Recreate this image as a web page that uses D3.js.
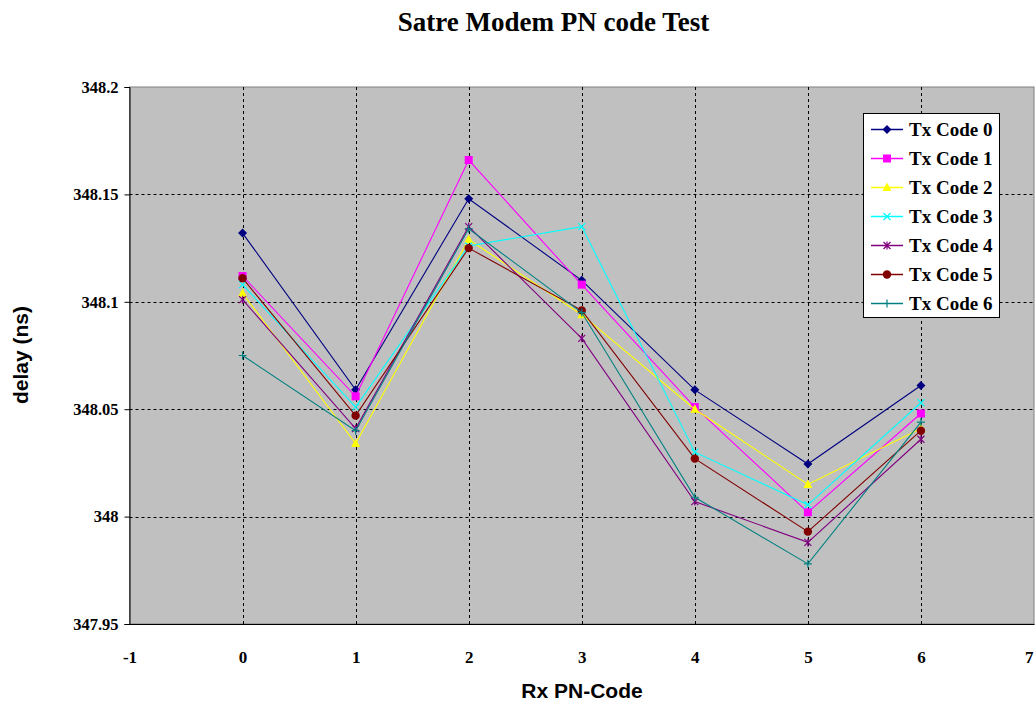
<!DOCTYPE html>
<html>
<head>
<meta charset="utf-8">
<script src="https://cdn.jsdelivr.net/npm/d3@7/dist/d3.min.js"></script>
<style>
html,body{margin:0;padding:0;background:#fff;}
svg{display:block;}
</style>
</head>
<body>
<svg id="chart" width="1036" height="706"></svg>
<script>
// ---- data ----
const rxCodes = [0, 1, 2, 3, 4, 5, 6];
const seriesNames = ["Tx Code 0", "Tx Code 1", "Tx Code 2", "Tx Code 3", "Tx Code 4", "Tx Code 5", "Tx Code 6"];
const tx0 = [348.132, 348.059, 348.148, 348.110, 348.059, 348.0245, 348.061];
const tx1 = [348.112, 348.056, 348.166, 348.108, 348.051, 348.002, 348.048];
const tx2 = [348.104, 348.034, 348.129, 348.094, 348.050, 348.015, 348.041];
const tx3 = [348.108, 348.051, 348.126, 348.135, 348.030, 348.0055, 348.053];
const tx4 = [348.101, 348.041, 348.135, 348.083, 348.007, 347.988, 348.036];
const tx5 = [348.111, 348.047, 348.125, 348.096, 348.027, 347.993, 348.040];
const tx6 = [348.075, 348.040, 348.134, 348.095, 348.009, 347.978, 348.044];
const xTicks = [-1, 0, 1, 2, 3, 4, 5, 6, 7];
const xTickLabels = ["-1", "0", "1", "2", "3", "4", "5", "6", "7"];
const yTicks = [347.95, 348, 348.05, 348.1, 348.15, 348.2];
const yTickLabels = ["347.95", "348", "348.05", "348.1", "348.15", "348.2"];
const colors = ["#000080", "#FF00FF", "#FFFF00", "#00FFFF", "#800080", "#800000", "#008080"];
const markers = ["diamond", "square", "triangle", "x", "star", "circle", "plus"];

const allSeries = [tx0, tx1, tx2, tx3, tx4, tx5, tx6];

// ---- layout ----
const svg = d3.select("#chart");
const L = 129.5, R = 1034, T = 87, B = 624;
const x = d3.scaleLinear().domain([-1, 7]).range([L, R]);
const y = d3.scaleLinear().domain([347.95, 348.2]).range([B, T]);

// plot area
svg.append("rect").attr("x", L).attr("y", T).attr("width", R - L).attr("height", B - T)
  .attr("fill", "#C0C0C0").attr("stroke", "#808080").attr("stroke-width", 1);

// gridlines
const grid = svg.append("g");
grid.selectAll("line.h").data(yTicks.filter(v => v > 347.95 && v < 348.2)).enter().append("line")
  .attr("x1", L).attr("x2", R).attr("y1", d => Math.round(y(d)) + 0.5).attr("y2", d => Math.round(y(d)) + 0.5)
  .attr("stroke", "#000").attr("stroke-width", 1).attr("stroke-dasharray", "3,3");
grid.selectAll("line.v").data(xTicks.filter(v => v > -1 && v < 7)).enter().append("line")
  .attr("y1", T).attr("y2", B).attr("x1", d => Math.round(x(d)) + 0.5).attr("x2", d => Math.round(x(d)) + 0.5)
  .attr("stroke", "#000").attr("stroke-width", 1).attr("stroke-dasharray", "3,3");

// axes
const yAxis = d3.axisLeft(y).tickValues(yTicks).tickSize(5).tickFormat((d, i) => yTickLabels[i]);
const gy = svg.append("g").attr("transform", `translate(${L},0)`).call(yAxis);
gy.select(".domain").attr("stroke", "#000");
gy.selectAll(".tick line").attr("stroke", "#000");
gy.selectAll(".tick text").attr("x", -11)
  .style("font-family", "'Liberation Serif', 'Times New Roman', serif").style("font-weight", "bold")
  .style("font-size", "16.5px").attr("fill", "#000");

const xAxis = d3.axisBottom(x).tickValues(xTicks).tickSize(0).tickFormat((d, i) => xTickLabels[i]);
const gx = svg.append("g").attr("transform", `translate(0,${B})`).call(xAxis);
gx.select(".domain").attr("stroke", "#000");
gx.selectAll(".tick text").attr("y", 27)
  .style("font-family", "'Liberation Serif', 'Times New Roman', serif").style("font-weight", "bold")
  .style("font-size", "17px").attr("fill", "#000");
// keep the last label inside the picture
gx.selectAll(".tick text").filter(d => d === 7).attr("text-anchor", "end").attr("dx", -1);

// series
const line = d3.line().x((d, i) => x(rxCodes[i])).y(d => y(d));

function drawMarker(g, type, color, cx, cy) {
  const s = 4.5;
  if (type === "diamond") {
    g.append("path").attr("d", `M${cx},${cy - s}L${cx + s},${cy}L${cx},${cy + s}L${cx - s},${cy}Z`).attr("fill", color);
  } else if (type === "square") {
    g.append("rect").attr("x", cx - 4).attr("y", cy - 4).attr("width", 8).attr("height", 8).attr("fill", color);
  } else if (type === "triangle") {
    g.append("path").attr("d", `M${cx},${cy - 5}L${cx + 4.5},${cy + 3.5}L${cx - 4.5},${cy + 3.5}Z`).attr("fill", color);
  } else if (type === "x") {
    g.append("path").attr("d", `M${cx - 3.5},${cy - 3.5}L${cx + 3.5},${cy + 3.5}M${cx + 3.5},${cy - 3.5}L${cx - 3.5},${cy + 3.5}`)
      .attr("stroke", color).attr("stroke-width", 1.2).attr("fill", "none");
  } else if (type === "star") {
    g.append("path").attr("d", `M${cx - 3.5},${cy - 3.5}L${cx + 3.5},${cy + 3.5}M${cx + 3.5},${cy - 3.5}L${cx - 3.5},${cy + 3.5}M${cx},${cy - 4}L${cx},${cy + 4}`)
      .attr("stroke", color).attr("stroke-width", 1.2).attr("fill", "none");
  } else if (type === "circle") {
    g.append("circle").attr("cx", cx).attr("cy", cy).attr("r", 4.2).attr("fill", color);
  } else if (type === "plus") {
    g.append("path").attr("d", `M${cx - 4},${cy}L${cx + 4},${cy}M${cx},${cy - 4}L${cx},${cy + 4}`)
      .attr("stroke", color).attr("stroke-width", 1.2).attr("fill", "none");
  }
}

allSeries.forEach((vals, si) => {
  const g = svg.append("g");
  g.append("path").datum(vals).attr("d", line).attr("fill", "none")
    .attr("stroke", colors[si]).attr("stroke-width", 1.1);
  vals.forEach((v, i) => drawMarker(g, markers[si], colors[si], x(rxCodes[i]), y(v)));
});

// legend
const lg = svg.append("g");
lg.append("rect").attr("x", 863.5).attr("y", 113.5).attr("width", 136).attr("height", 204)
  .attr("fill", "#fff").attr("stroke", "#000").attr("stroke-width", 1);
seriesNames.forEach((name, i) => {
  const cy = 129.5 + i * 29;
  lg.append("line").attr("x1", 871).attr("x2", 903).attr("y1", cy).attr("y2", cy)
    .attr("stroke", colors[i]).attr("stroke-width", 1.5);
  drawMarker(lg, markers[i], colors[i], 887, cy);
  lg.append("text").attr("x", 909).attr("y", cy).attr("dy", "0.35em").text(name)
    .style("font-family", "'Liberation Serif', 'Times New Roman', serif").style("font-weight", "bold")
    .style("font-size", "19px").attr("fill", "#000");
});

// titles
svg.append("text").attr("x", 553.5).attr("y", 31).attr("text-anchor", "middle").text("Satre Modem PN code Test")
  .style("font-family", "'Liberation Serif', 'Times New Roman', serif").style("font-weight", "bold")
  .style("font-size", "27px").attr("fill", "#000");
svg.append("text").attr("x", 582).attr("y", 698).attr("text-anchor", "middle").text("Rx PN-Code")
  .style("font-family", "'Liberation Sans', Arial, sans-serif").style("font-weight", "bold")
  .style("font-size", "21px").attr("fill", "#000");
svg.append("text").attr("transform", "translate(28,355) rotate(-90)").attr("text-anchor", "middle").text("delay (ns)")
  .style("font-family", "'Liberation Sans', Arial, sans-serif").style("font-weight", "bold")
  .style("font-size", "21px").attr("fill", "#000");
</script>
</body>
</html>
